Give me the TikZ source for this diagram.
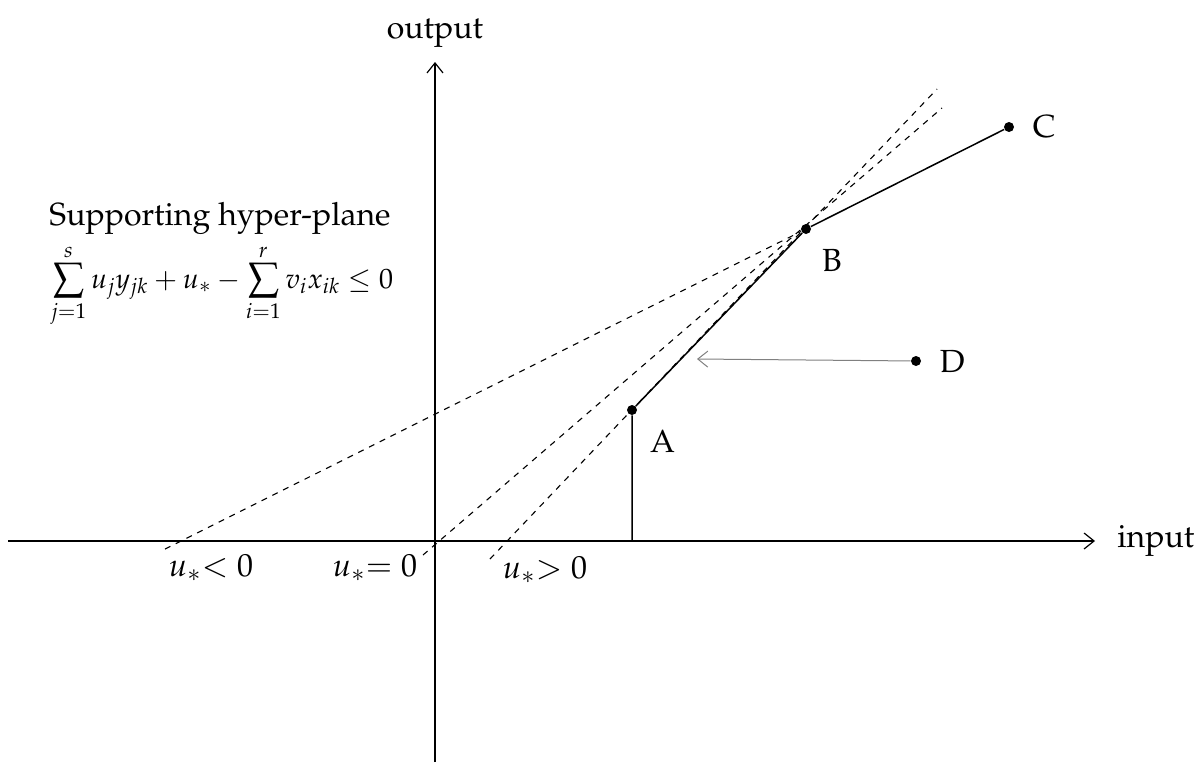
\documentclass[tikz,border=0pt]{standalone}
\usepackage[T1]{fontenc}
\usepackage{mathpazo}
\usepackage{tikz}
\usetikzlibrary{arrows.meta, positioning}

\begin{document}
\begin{tikzpicture}[
    x=0.5pt, y=-0.5pt,
    axis/.style={line width=0.6pt, -{Straight Barb[length=5pt, width=8pt]}},
    dot/.style={circle, fill=black, inner sep=0pt, minimum size=5pt},
    hyper/.style={dashed, line width=0.55pt},
    face/.style={line width=0.75pt},
    lbl/.style={font=\fontsize{16}{19}\selectfont, inner sep=1pt}
]
    \useasboundingbox (0,0) rectangle (1199,766);

    % axes
    \coordinate (xL) at (8,541);
    \coordinate (xR) at (1095,541);
    \coordinate (yB) at (435,762);
    \coordinate (yT) at (435,62);
    \draw [axis] (xL) -- (xR);
    \draw [axis] (yB) -- (yT);
    \node (out) [lbl, above=6pt of yT] {output};
    \node (in) [lbl, right=10pt of xR] {input};

    % units
    \node (A) [dot] at (632,410) {};
    \node (B) [dot] at (806,229) {};
    \node (C) [dot] at (1009,127) {};
    \node (D) [dot] at (916,361) {};
    \node [lbl, below right=7pt and 6pt of A] {A};
    \node [lbl, below right=7pt and 5pt of B] {B};
    \node [lbl, right=8pt of C] {C};
    \node [lbl, right=8pt of D] {D};
    \coordinate (Af) at (632,541);
    \coordinate (Dp) at (697,359);

    % supporting hyper-planes
    \coordinate (negB) at (165,549);
    \coordinate (zeroB) at (423,555);
    \coordinate (zeroT) at (942,108);
    \coordinate (posB) at (490,559);
    \coordinate (posT) at (937,89);
    \draw [hyper] (negB) -- (B);
    \draw [hyper] (zeroB) -- (zeroT);
    \draw [hyper] (posB) -- (posT);
    \node [lbl] at (211,568) {$u_{*}{<}\;0$};
    \node [lbl] at (375,568) {$u_{*}{=}\;0$};
    \node [lbl] at (545,570) {$u_{*}{>}\;0$};

    % frontier
    \draw [face] (Af) -- (A) -- (B) -- (C);
    \draw [line width=0.5pt, gray, -{Straight Barb[length=5pt, width=8pt]}] (D) -- (Dp);

    \node (sh) [lbl] at (220,218) {Supporting hyper-plane};
    \node (eq) [font=\fontsize{14}{16}\selectfont, inner sep=1pt] at (222,286)
        {$\displaystyle\sum_{j=1}^{s} u_j y_{jk} + u_{*} - \sum_{i=1}^{r} v_i x_{ik} \le 0$};
\end{tikzpicture}
\end{document}
